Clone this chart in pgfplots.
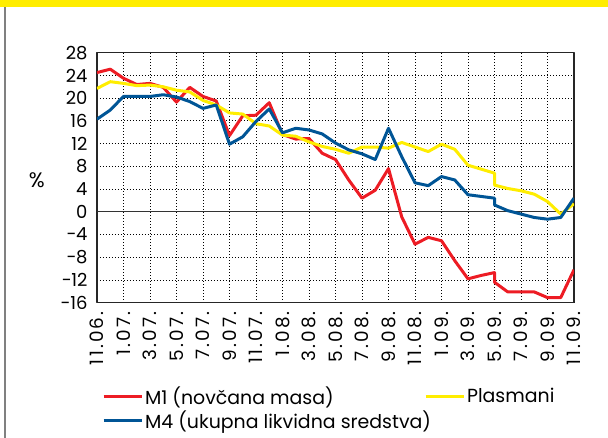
\documentclass[border=0pt]{standalone}
\usepackage{fontspec}
\setmainfont{Poppins}
\newfontfamily\xtickfont[LetterSpace=12]{Poppins}
\usepackage{pgfplots}
\pgfplotsset{compat=1.18}
\definecolor{cred}{RGB}{237,28,36}
\definecolor{cyel}{RGB}{255,237,0}
\definecolor{cblue}{RGB}{0,85,150}
\begin{document}
\begin{tikzpicture}
\path[use as bounding box] (-97bp,-135.3bp) rectangle (511bp,302.7bp);
\fill[cyel] (-97bp,295.7bp) rectangle (511bp,302.7bp);
\draw[gray,line width=1.5bp] (-92bp,-135.3bp) -- (-92bp,295.7bp);
\begin{axis}[
  at={(0,0)}, anchor=south west,
  scale only axis, width=477bp, height=250bp,
  xmin=0, xmax=36, ymin=-16, ymax=28,
  xtick={0,2,...,36},
  xticklabels={11.06.,1.07.,3.07.,5.07.,7.07.,9.07.,11.07.,1.08.,3.08.,5.08.,7.08.,9.08.,11.08.,1.09.,3.09.,5.09.,7.09.,9.09.,11.09.},
  ytick={-16,-12,...,28},
  yticklabels={−16,−12,−8,−4,0,4,8,12,16,20,24,28},
  x tick label style={rotate=90, anchor=east, font=\xtickfont\fontsize{18.5}{18.5}\selectfont},
  y tick label style={font=\fontsize{18}{18}\selectfont},
  xticklabel shift=5bp,
  yticklabel shift=6bp,
  major tick length=0pt,
  grid=major,
  grid style={black, line width=0.8bp, dash pattern=on 0.8bp off 2.2bp},
  axis line style={black!85, line width=1.3bp},
  extra y ticks={0}, extra y tick labels={},
  extra y tick style={grid style={solid, black!80, line width=1bp}},
  ylabel={\%},
  ylabel style={rotate=-90, at={(axis description cs:-0.126,0.49)}, anchor=center, font=\fontsize{21}{21}\selectfont},
  legend columns=2,
  legend cell align=left,
  legend style={draw=none, fill=none, at={(axis description cs:0.004,-0.32)}, anchor=north west,
    font=\fontsize{19}{19}\selectfont, /tikz/every even column/.append style={column sep=20bp},
    row sep=1bp},
  legend image code/.code={\draw[#1, line width=3bp] (0bp,0bp) -- (38bp,0bp);},
  line join=round,
]
\addplot[cred, line width=3bp] coordinates {
(0,24.5) (1,25.1) (2,23.5) (3,22.4) (4,22.6) (5,21.9) (6,19.3) (7,21.9) (8,20.3) (9,19.5)
(10,13.4) (11,16.9) (12,17.0) (13,19.2) (14,13.6) (15,12.8) (16,12.9) (17,10.3) (18,9.2) (19,5.6)
(20,2.4) (21,3.8) (22,7.6) (23,-0.9) (24,-5.7) (25,-4.5) (26,-5.1) (27,-8.6) (28,-11.8) (29,-11.2)
(30,-10.7) (30,-12.4) (31,-14.1) (32,-14.1) (33,-14.1) (34,-15.1) (35,-15.1) (36,-10.2)};
\addlegendentry{\makebox[257bp][l]{M1 (novčana masa)}}
\addplot[cyel, line width=3bp] coordinates {
(0,21.7) (1,22.9) (2,22.6) (3,22.2) (4,22.3) (5,22.0) (6,21.4) (7,21.1) (8,19.6) (9,18.8)
(10,17.4) (11,17.2) (12,15.5) (13,15.1) (14,13.5) (15,13.3) (16,12.3) (17,11.5) (18,11.0) (19,10.3)
(20,11.4) (21,11.4) (22,11.2) (23,12.2) (24,11.4) (25,10.6) (26,11.9) (27,11.0) (28,8.2) (29,7.5)
(30,6.8) (30,4.7) (31,4.1) (32,3.7) (33,3.1) (34,1.8) (35,-0.4) (36,1.4)};
\addlegendentry{Plasmani}
\addplot[cblue, line width=3bp] coordinates {
(0,16.3) (1,17.9) (2,20.3) (3,20.3) (4,20.3) (5,20.6) (6,20.2) (7,19.4) (8,18.2) (9,18.8)
(10,11.9) (11,13.2) (12,15.9) (13,18.1) (14,13.9) (15,14.7) (16,14.4) (17,13.7) (18,12.1) (19,10.9)
(20,10.2) (21,9.2) (22,14.7) (23,9.7) (24,5.1) (25,4.6) (26,6.2) (27,5.6) (28,3.0) (29,2.7)
(30,2.4) (30,1.2) (31,0.2) (32,-0.4) (33,-1.0) (34,-1.3) (35,-1.0) (36,2.4)};
\addlegendentry{\makebox[257bp][l]{M4 (ukupna likvidna sredstva)}}
\end{axis}
\end{tikzpicture}
\end{document}
